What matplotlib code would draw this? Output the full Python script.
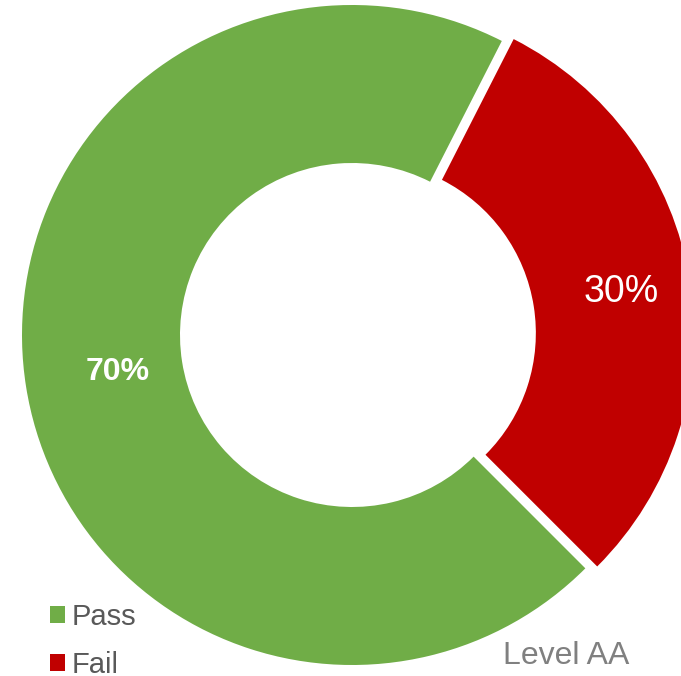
import matplotlib
matplotlib.use("Agg")
import numpy as np
from matplotlib import pyplot as plt

plt.rcParams['font.family'] = ['Liberation Sans', 'DejaVu Sans']

labels = ['Pass', 'Fail']
values = [70, 30]
colors = ['#70AD47', '#C00000']
explode = [0, 12]           # in data (pixel) units
label_r = [0.72, 0.79]      # distance of the % labels, as fraction of radius
label_weight = ['bold', 'normal']
label_size = [23, 27]

fig = plt.figure(figsize=(6.81, 6.76), dpi=100)
ax = fig.add_axes([0, 0, 1, 1])

R = 330
cx, cy = 352, 341
wedges, texts, autotexts = ax.pie(values, colors=colors, explode=explode,
                                  startangle=63, counterclock=True,
                                  center=(cx, cy), radius=R,
                                  wedgeprops=dict(width=R - 172, linewidth=0),
                                  autopct='%d%%', pctdistance=0.75,
                                  textprops=dict(color='white', fontsize=23))
ax.set_xlim(0, 681)
ax.set_ylim(0, 676)
ax.set_aspect('equal')
ax.axis('off')

for i, (w, t) in enumerate(zip(wedges, autotexts)):
    th = np.deg2rad((w.theta1 + w.theta2) / 2)
    r = label_r[i] * R + explode[i]
    t.set_position((cx + r * np.cos(th), cy + r * np.sin(th)))
    t.set_fontweight(label_weight[i])
    t.set_fontsize(label_size[i])

leg = ax.legend(wedges, labels, loc='lower left', bbox_to_anchor=(0.035, -0.043),
                frameon=False, fontsize=21, handlelength=0.5, handleheight=0.5,
                handletextpad=0.25, labelspacing=0.68, labelcolor='#595959')

ax.text(503, 12, 'Level AA', fontsize=23, color='#808080', ha='left', va='baseline')

fig.savefig('out.png', dpi=100)
